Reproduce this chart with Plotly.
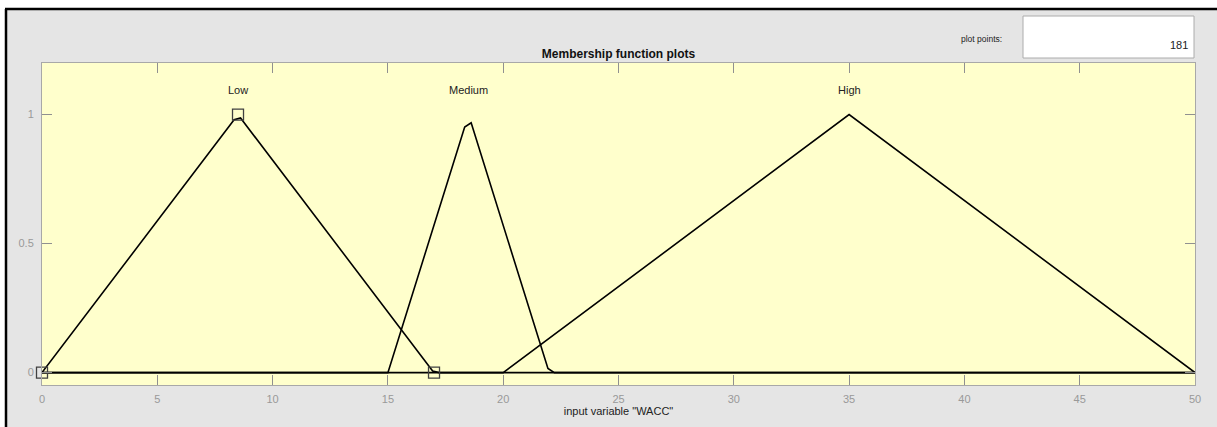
import plotly.graph_objects as go

# Membership function polylines for input variable "WACC" (181 plot points)
low_x = [0, 8.33, 8.61, 16.94, 17.22, 50]
low_y = [0, 0.98, 0.987, 0.0065, 0, 0]
medium_x = [0, 15, 18.33, 18.61, 21.94, 22.22, 50]
medium_y = [0, 0, 0.952, 0.968, 0.016, 0, 0]
high_x = [0, 20, 35, 50]
high_y = [0, 0, 1, 0]

# Parameter handles of the selected function (Low)
handle_x = [0, 8.5, 17]
handle_y = [0, 1, 0]

mf_names = ["Low", "Medium", "High"]
mf_label_x = [8.5, 18.5, 35]
mf_label_y = [1.095, 1.095, 1.095]

x_ticks = [0, 5, 10, 15, 20, 25, 30, 35, 40, 45, 50]
y_ticks = [0, 0.5, 1]
plot_points = "181"

W, H = 1217, 427
L, R, T, B = 42, 1195, 63, 385
FONT = "Liberation Sans, Arial, sans-serif"


def px(x):
    return (x - L) / (R - L)


def py(y):
    return (B - y) / (B - T)


fig = go.Figure()
for xs, ys in [(low_x, low_y), (medium_x, medium_y), (high_x, high_y)]:
    fig.add_trace(go.Scatter(x=xs, y=ys, mode="lines",
                             line=dict(color="black", width=1.6),
                             hoverinfo="skip", showlegend=False))

fig.add_trace(go.Scatter(x=handle_x, y=handle_y, mode="markers",
                         marker=dict(symbol="square-open", size=11,
                                     color="#404040", line=dict(width=1.3)),
                         showlegend=False, hoverinfo="skip", cliponaxis=False))

for name, lx, ly in zip(mf_names, mf_label_x, mf_label_y):
    fig.add_annotation(x=lx, y=ly, text=name, showarrow=False,
                       font=dict(family=FONT, size=11, color="#222"))

shapes = [
    # white strip above and left of the window frame
    dict(type="rect", xref="paper", yref="paper", x0=px(0), x1=px(W),
         y0=py(9), y1=py(0), fillcolor="white", line_width=0, layer="below"),
    dict(type="rect", xref="paper", yref="paper", x0=px(0), x1=px(5),
         y0=py(H), y1=py(0), fillcolor="white", line_width=0, layer="below"),
    # window frame
    dict(type="line", xref="paper", yref="paper", x0=px(5), x1=px(W),
         y0=py(9), y1=py(9), line=dict(color="black", width=2.5)),
    dict(type="line", xref="paper", yref="paper", x0=px(6), x1=px(6),
         y0=py(9), y1=py(H), line=dict(color="black", width=2.5)),
    # plot points box
    dict(type="rect", xref="paper", yref="paper", x0=px(1023), x1=px(1194),
         y0=py(58), y1=py(16), fillcolor="white",
         line=dict(color="#acacac", width=1)),
]

fig.add_annotation(xref="paper", yref="paper", x=px(1190), y=py(37),
                   text=plot_points, showarrow=False, xanchor="right",
                   font=dict(family=FONT, size=11, color="#222"))
fig.add_annotation(xref="paper", yref="paper", x=px(1004), y=py(32),
                   text="plot points:", showarrow=False, xanchor="right",
                   font=dict(family=FONT, size=8.5, color="#222"))

fig.update_layout(
    width=W, height=H,
    margin=dict(l=L, r=W - R, t=T, b=H - B, pad=0),
    paper_bgcolor="#e5e5e5",
    plot_bgcolor="#ffffcc",
    shapes=shapes,
    title=dict(text="<b>Membership function plots</b>", x=0.5, xref="paper",
               xanchor="center", y=1 - 54 / H, yanchor="middle",
               font=dict(family=FONT, size=12, color="#111")),
    font=dict(family=FONT),
    showlegend=False,
)

fig.update_xaxes(range=[0, 50], tickvals=x_ticks, ticks="inside", ticklen=10,
                 tickcolor="#909090", showline=True, linecolor="#a8a8a8",
                 linewidth=1, mirror="ticks", showgrid=False, zeroline=False,
                 ticklabelstandoff=4,
                 tickfont=dict(family=FONT, size=11, color="#999999"),
                 title=dict(text='input variable "WACC"', standoff=3,
                            font=dict(family=FONT, size=11, color="#222")))
fig.update_yaxes(range=[-0.048, 1.2], tickvals=y_ticks, ticktext=["0", "0.5", "1"],
                 ticks="inside", ticklen=10, tickcolor="#909090", showline=True,
                 linecolor="#a8a8a8", linewidth=1, mirror="ticks",
                 showgrid=False, zeroline=False, ticklabelstandoff=5,
                 tickfont=dict(family=FONT, size=11, color="#999999"))

fig.write_html("out.html")
